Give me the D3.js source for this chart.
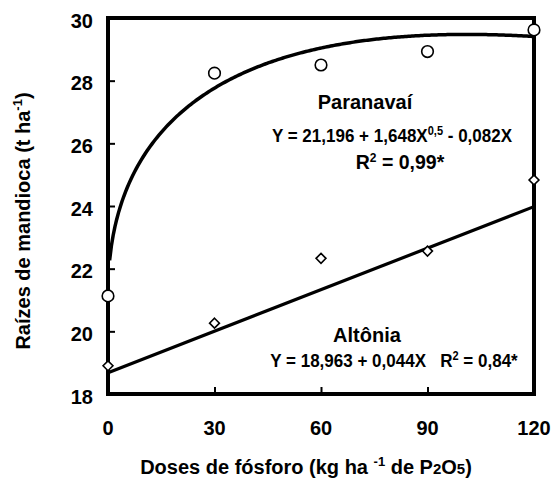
<!DOCTYPE html>
<html><head><meta charset="utf-8">
<script src="https://cdn.jsdelivr.net/npm/d3@7"></script>
<style>
body{margin:0;background:#fff}
text{font-family:"Liberation Sans",Arial,sans-serif;font-weight:bold;fill:#000}
</style>
</head><body>
<svg id="c" width="553" height="479"></svg>
<script>
// ---- data ----
const doses = [0, 30, 60, 90, 120];
const paranavai = [21.13, 28.24, 28.50, 28.93, 29.62];
const altonia = [18.90, 20.26, 22.33, 22.56, 24.83];
// Paranavaí fit: Y = a + b*X^0.5 + c*X
const paranavaiCoef = [21.196, 1.648, -0.082];
const paranavaiFitRange = [0.45, 120];
// Altônia fitted line as drawn (end points)
const altoniaLineX = [0, 120];
const altoniaLineY = [18.68, 23.98];
const xTicks = [0, 30, 60, 90, 120];
const yTicks = [18, 20, 22, 24, 26, 28, 30];

const svg = d3.select("#c");
const L = 108, R = 534, T = 18, B = 394;
const x = d3.scaleLinear().domain([0, 120]).range([L, R]);
const y = d3.scaleLinear().domain([18, 30]).range([B, T]);

// ticks (inner)
const ya = svg.append("g").attr("transform", `translate(${L},0)`)
  .call(d3.axisRight(y).tickValues(yTicks.slice(1, -1)).tickSize(7).tickFormat(""));
ya.select(".domain").remove();
ya.selectAll("line").attr("stroke", "#000").attr("stroke-width", 2);
const xa = svg.append("g").attr("transform", `translate(0,${B})`)
  .call(d3.axisTop(x).tickValues(xTicks.slice(1, -1)).tickSize(7).tickFormat(""));
xa.select(".domain").remove();
xa.selectAll("line").attr("stroke", "#000").attr("stroke-width", 2);

// tick labels
svg.append("g").selectAll("text").data(yTicks).join("text")
  .attr("x", L - 15).attr("y", d => y(d) + 9.5)
  .attr("text-anchor", "end").attr("font-size", 20).text(d => d);
svg.append("g").selectAll("text").data(xTicks).join("text")
  .attr("x", d => x(d)).attr("y", 435)
  .attr("text-anchor", "middle").attr("font-size", 20).text(d => d);

// fitted curves
const curvePts = d3.range(0, 241).map(i => {
  const X = paranavaiFitRange[0] + (paranavaiFitRange[1] - paranavaiFitRange[0]) * i / 240;
  return [X, paranavaiCoef[0] + paranavaiCoef[1] * Math.sqrt(X) + paranavaiCoef[2] * X];
});
const line = d3.line().x(d => x(d[0])).y(d => y(d[1]));
svg.append("path").datum(curvePts).attr("d", line)
  .attr("fill", "none").attr("stroke", "#000").attr("stroke-width", 3.5);
svg.append("path").datum(altoniaLineX.map((v, i) => [v, altoniaLineY[i]])).attr("d", line)
  .attr("fill", "none").attr("stroke", "#000").attr("stroke-width", 3.2);

// frame
svg.append("rect").attr("x", L).attr("y", T).attr("width", R - L).attr("height", B - T)
  .attr("fill", "none").attr("stroke", "#000").attr("stroke-width", 4);

// markers
svg.append("g").selectAll("circle").data(doses).join("circle")
  .attr("cx", d => x(d)).attr("cy", (d, i) => y(paranavai[i])).attr("r", 5.8)
  .attr("fill", "#fff").attr("stroke", "#000").attr("stroke-width", 1.6);
const sym = d3.symbol().type(d3.symbolDiamond2).size(62);
svg.append("g").selectAll("path").data(doses).join("path")
  .attr("transform", (d, i) => `translate(${x(d)},${y(altonia[i])})`)
  .attr("d", sym())
  .attr("fill", "#fff").attr("stroke", "#000").attr("stroke-width", 1.6);

// annotations
function label(cx, cy, sx, fs, parts) {
  const g = svg.append("g").attr("transform", `translate(${cx},${cy}) scale(${sx},1)`);
  const t = g.append("text").attr("text-anchor", "middle").attr("font-size", fs).style("white-space", "pre");
  parts.forEach(p => {
    const s = t.append("tspan").text(p.t);
    if (p.sup) s.attr("dy", -7.5).attr("font-size", 12);
    if (p.after) s.attr("dy", 7.5);
  });
}
label(365, 109, 1, 20, [{t: "Paranavaí"}]);
label(392, 142, 0.92, 18.5, [{t: "Y = 21,196 + 1,648X"}, {t: "0,5", sup: 1}, {t: " - 0,082X", after: 1}]);
label(400, 169, 1, 19.5, [{t: "R"}, {t: "2", sup: 1}, {t: " = 0,99*", after: 1}]);
label(367, 342, 1, 20, [{t: "Altônia"}]);
label(394, 367, 0.92, 18.5, [{t: "Y = 18,963 + 0,044X   R"}, {t: "2", sup: 1}, {t: " = 0,84*", after: 1}]);

// axis titles
const xt = svg.append("text").attr("x", 306).attr("y", 474).attr("text-anchor", "middle")
  .attr("font-size", 20).style("white-space", "pre");
xt.append("tspan").text("Doses de fósforo (kg ha ");
xt.append("tspan").attr("dy", -8).attr("font-size", 13).text("-1");
xt.append("tspan").attr("dy", 8).text(" de P");
xt.append("tspan").attr("font-size", 15).text("2");
xt.append("tspan").text("O");
xt.append("tspan").attr("font-size", 15).text("5");
xt.append("tspan").text(")");

const yt = svg.append("text").attr("transform", "translate(30,221) rotate(-90)")
  .attr("text-anchor", "middle").attr("font-size", 20);
yt.append("tspan").text("Raízes de mandioca (t ha");
yt.append("tspan").attr("dy", -8).attr("font-size", 13).text("-1");
yt.append("tspan").attr("dy", 8).text(")");
</script>
</body></html>
